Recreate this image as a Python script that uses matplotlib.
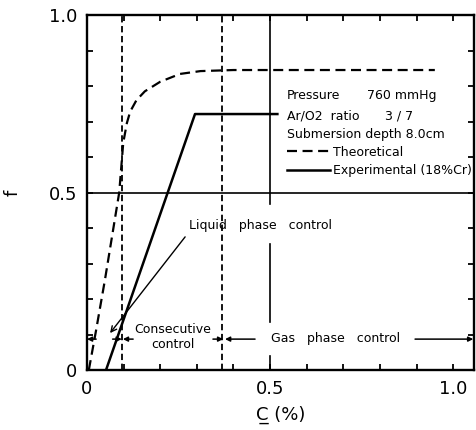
import matplotlib
matplotlib.use("Agg")
import matplotlib.pyplot as plt

plt.rcParams['font.family'] = ['DejaVu Sans']

# ---- data ----
theo_C = [0.005, 0.025, 0.049, 0.088, 0.099, 0.109, 0.118, 0.135, 0.158, 0.20, 0.254, 0.31, 0.40, 0.95]
theo_f = [0.0, 0.113, 0.254, 0.50, 0.64, 0.696, 0.728, 0.760, 0.785, 0.812, 0.834, 0.842, 0.845, 0.845]

exp_C = [0.052, 0.295, 0.52]
exp_f = [0.0, 0.721, 0.721]

boundaries_C = [0.095, 0.37]          # dashed region boundaries
ref_f = 0.5                           # horizontal reference line
ref_C = 0.5                           # vertical reference line
ref_C_segments = [(0.468, 1.0), (0.135, 0.355), (0.0, 0.04)]

tick_vals = [0.0, 0.5, 1.0]
tick_labels = ['0', '0.5', '1.0']
minor_vals = [i / 10 for i in range(11)]

info_lines = ['Pressure', 'Ar/O2  ratio', 'Submersion depth 8.0cm']
info_values = ['760 mmHg', '3 / 7', '']

region_arrow_f = 0.087
region_arrows = [(0.025, 0.0), (0.070, 0.095), (0.126, 0.098),
                 (0.344, 0.372), (0.459, 0.377), (0.896, 1.055)]

# ---- figure ----
fig = plt.figure(figsize=(4.76, 4.30), dpi=100)
ax = fig.add_axes([87/476, 1-370/430, 387/476, 355/430])
ax.set_xlim(0, 1.057)
ax.set_ylim(0, 1.0)

ax.axhline(ref_f, color='black', lw=1.2)
for lo, hi in ref_C_segments:
    ax.plot([ref_C, ref_C], [lo, hi], color='black', lw=1.2)
for b in boundaries_C:
    ax.axvline(b, color='black', lw=1.3, ls=(0, (3.5, 2)))

ax.plot(theo_C, theo_f, color='black', lw=1.6, ls=(0, (4.5, 2.5)), label='Theoretical')
ax.plot(exp_C, exp_f, color='black', lw=1.8, label='Experimental (18%Cr)')

# ticks
def lab(v):
    v = round(v, 2)
    return tick_labels[tick_vals.index(v)] if v in tick_vals else ''

ax.set_xticks(minor_vals)
ax.set_yticks(minor_vals)
ax.set_xticklabels([lab(v) for v in minor_vals])
ax.set_yticklabels([lab(v) for v in minor_vals])
ax.tick_params(direction='in', length=4, width=1.3, top=True, right=True,
               labelsize=13, pad=7)
for s in ax.spines.values():
    s.set_linewidth(1.7)

ax.set_xlabel('C\u0332 (%)', fontsize=13, labelpad=6)
ax.set_ylabel('f', fontsize=13)
ax.yaxis.set_label_coords(-0.17, 0.5)

# info block
fs = 9
info_f = [0.772, 0.715, 0.662]
for txt, val, fy in zip(info_lines, info_values, info_f):
    ax.text(0.546, fy, txt, fontsize=fs, va='center', ha='left')
    if val:
        ax.text(0.765 if val.startswith('760') else 0.814, fy, val,
                fontsize=fs, va='center', ha='left')

leg = ax.legend(loc='upper left', bbox_to_anchor=(0.517, 0.632), frameon=False,
                fontsize=fs, handlelength=3.4, handletextpad=0.3,
                borderpad=0, borderaxespad=0, labelspacing=0.45)

# region annotations
ax.text(0.475, 0.406, 'Liquid   phase   control', fontsize=fs, ha='center', va='center')
ax.annotate('', xy=(0.063, 0.104), xytext=(0.268, 0.375),
            arrowprops=dict(arrowstyle='->', lw=1.0, shrinkA=0, shrinkB=0,
                            mutation_scale=10))
ax.text(0.235, 0.092, 'Consecutive\ncontrol', fontsize=fs, ha='center', va='center',
        linespacing=1.2)
ax.text(0.678, 0.09, 'Gas   phase   control', fontsize=fs, ha='center', va='center')
for tail, head in region_arrows:
    ax.annotate('', xy=(head, region_arrow_f), xytext=(tail, region_arrow_f),
                arrowprops=dict(arrowstyle='-|>', lw=1.1, shrinkA=0, shrinkB=0,
                                mutation_scale=7, color='black'))

fig.savefig('out.png', dpi=100)
